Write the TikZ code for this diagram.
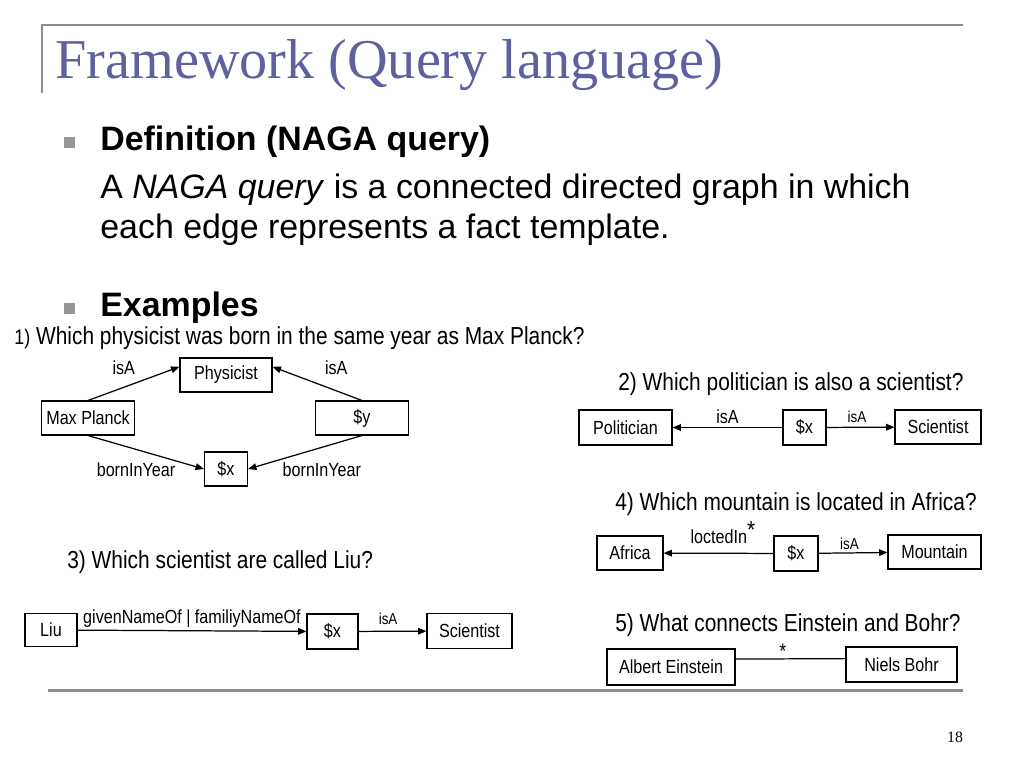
\documentclass[tikz,border=0pt]{standalone}
\usepackage{fontspec}
\setmainfont{Liberation Serif}
\newfontfamily\bodyfont{Liberation Sans}
\newfontfamily\narrowfont[FakeStretch=0.85]{Liberation Sans}
\usetikzlibrary{arrows.meta, positioning, calc}
\definecolor{titleblue}{RGB}{95,96,160}
\definecolor{rulegray}{RGB}{140,140,140}
\definecolor{bulletgray}{RGB}{150,150,150}
\tikzset{
	qbox/.style 2 args={
			draw=black,
			line width=0.6pt,
			fill=white,
			minimum width=#1*0.02cm,
			minimum height=#2*0.02cm,
			inner sep=0pt,
			font=\narrowfont\fontsize{10.8}{12}\selectfont
		},
	edgelabel/.style={
			inner sep=0pt,
			font=\narrowfont\fontsize{10.8}{12}\selectfont
		},
	smalllabel/.style={
			inner sep=0pt,
			font=\narrowfont\fontsize{9}{10}\selectfont
		},
	question/.style={
			anchor=base west,
			inner sep=0pt,
			font=\narrowfont\fontsize{14}{16}\selectfont
		},
	bodytext/.style={
			anchor=base west,
			inner sep=0pt,
			font=\bodyfont\fontsize{19.3}{23}\selectfont
		},
	headtext/.style={
			bodytext,
			font=\bodyfont\bfseries\fontsize{19.3}{23}\selectfont
		},
	bulletsq/.style={
			fill=bulletgray,
			minimum size=11*0.02cm,
			inner sep=0pt
		},
	qarrow/.style={
			line width=0.7pt,
			-{Triangle[length=4.8pt,width=3.8pt]}
		},
	qline/.style={
			line width=0.7pt
		}
}

\begin{document}
\begin{tikzpicture}[x=0.02cm, y=-0.02cm]
\path[use as bounding box, fill=white] (0,0) rectangle (1024,768);

% title and frame
\draw[rulegray, line width=1.7pt] (42,93) -- (42,25) -- (963,25);
\draw[rulegray, line width=1.7pt] (48,690) -- (963,690);
\node[anchor=base west, inner sep=0pt, text=titleblue, font=\fontsize{32}{36}\selectfont] (title) at (55,78) {Framework (Query language)};
\node[font=\fontsize{9}{10}\selectfont] (page) at (955,737) {18};

\node[bulletsq] (b1) at (69,142) {};
\node[bulletsq] (b2) at (69,308) {};
\node[headtext] (def) at (100,150) {Definition (NAGA query)};
\node[bodytext] (defa) at (100,198) {A \textit{NAGA query} is a connected directed graph in which};
\node[bodytext] (defb) at (100,238) {each edge represents a fact template.};
\node[headtext] (ex) at (100,316) {Examples};

% 1)
\node[question] (q1) at (14,344) {{\fontsize{12}{14}\selectfont 1)} Which physicist was born in the same year as Max Planck?};
\node[qbox={92}{34}] (phys) at (226,375) {Physicist};
\node[qbox={93}{34}] (planck) at (88,418) {Max Planck};
\node[qbox={93}{34}] (y1) at (362,418) {\$y};
\node[qbox={43}{34}] (x1) at (226,469) {\$x};

\draw[qarrow] (planck.north) -- (phys.170) node[edgelabel, midway, xshift=-5.7pt, yshift=9pt] {isA};
\draw[qarrow] (y1.north) -- (phys.10) node[edgelabel, midway, xshift=10.8pt, yshift=9pt] {isA};
\draw[qarrow] (planck.south) -- (x1.west) node[edgelabel, midway, xshift=-5.7pt, yshift=-10pt] {bornInYear};
\draw[qarrow] (y1.south) -- (x1.east) node[edgelabel, midway, xshift=9.6pt, yshift=-10pt] {bornInYear};

% 2)
\node[question] (q2) at (618,390) {2) Which politician is also a scientist?};
\node[qbox={93}{35}] (pol) at (625.5,427.5) {Politician};
\node[qbox={43}{35}] (x2) at (804.5,427.5) {\$x};
\node[qbox={86}{34}] (sci2) at (938,427) {Scientist};

\draw[qarrow] (x2) -- (pol) node[edgelabel, anchor=base, midway, yshift=2.5pt] {isA};
\draw[qarrow] (x2) -- (sci2) node[smalllabel, anchor=base, midway, xshift=-2pt, yshift=2.5pt] {isA};

% 4)
\node[question] (q4) at (615,510) {4) Which mountain is located in Africa?};
\node[qbox={66}{34}] (afr) at (630,553) {Africa};
\node[qbox={44}{35}] (x4) at (796,553.5) {\$x};
\node[qbox={93}{34}] (mount) at (934.5,552) {Mountain};

\draw[qarrow] (x4) -- (afr) node[edgelabel, anchor=base, midway, xshift=2.5pt, yshift=5.7pt] {loctedIn\raisebox{2.5pt}{\fontsize{14}{14}\selectfont *}};
\draw[qarrow] (x4) -- (mount) node[smalllabel, anchor=base, midway, xshift=-2pt, yshift=1.7pt] {isA};

% 3)
\node[question] (q3) at (67,568) {3) Which scientist are called Liu?};
\node[qbox={52}{33}] (liu) at (51,630) {Liu};
\node[qbox={51}{35}] (x3) at (332.5,631.5) {\$x};
\node[qbox={85}{35}] (sci3) at (469.5,631) {Scientist};

\draw[qarrow] (liu) -- (x3) node[edgelabel, anchor=base, midway, yshift=4pt] {givenNameOf | familiyNameOf};
\draw[qarrow] (x3) -- (sci3) node[smalllabel, anchor=base, midway, xshift=-2.5pt, yshift=4pt] {isA};

% 5)
\node[question] (q5) at (615,631) {5) What connects Einstein and Bohr?};
\node[qbox={128}{36}] (ein) at (671,667) {Albert Einstein};
\node[qbox={111}{35}] (bohr) at (901.5,664.5) {Niels Bohr};

\draw[qline] (ein.7) -- (bohr.174) node[edgelabel, anchor=base, pos=0.43, yshift=0.5pt, font=\narrowfont\fontsize{12}{12}\selectfont] {*};
\end{tikzpicture}
\end{document}
